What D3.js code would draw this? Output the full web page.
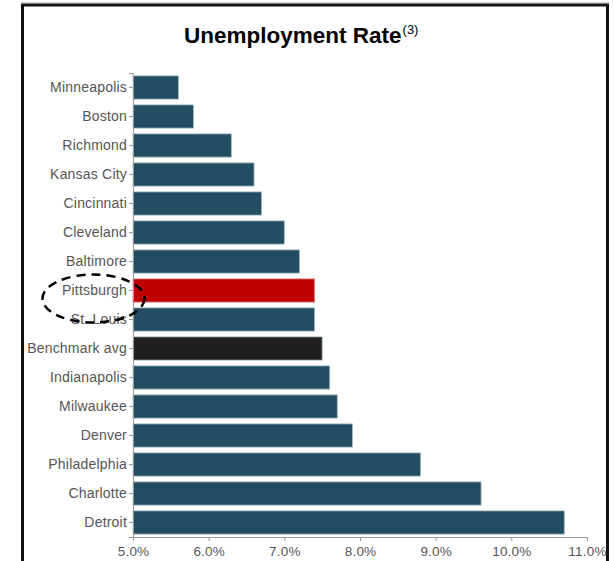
<!DOCTYPE html>
<html>
<head>
<meta charset="utf-8">
<script src="https://cdn.jsdelivr.net/npm/d3@7/dist/d3.min.js"></script>
<style>
  body { margin: 0; background: #fff; }
  svg { display: block; font-family: "Liberation Sans", Arial, Helvetica, sans-serif; }
</style>
</head>
<body>
<div id="chart"></div>
<script>
const cities = ["Minneapolis", "Boston", "Richmond", "Kansas City", "Cincinnati", "Cleveland",
  "Baltimore", "Pittsburgh", "St. Louis", "Benchmark avg", "Indianapolis", "Milwaukee",
  "Denver", "Philadelphia", "Charlotte", "Detroit"];
const rates = [5.6, 5.8, 6.3, 6.6, 6.7, 7.0, 7.2, 7.4, 7.4, 7.5, 7.6, 7.7, 7.9, 8.8, 9.6, 10.7];
const xTicks = [5, 6, 7, 8, 9, 10, 11];
const highlight = "Pittsburgh";
const benchmark = "Benchmark avg";

const width = 614, height = 561;
const margin = { top: 73, right: 27, bottom: 24, left: 133 };

const svg = d3.select("#chart").append("svg")
  .attr("width", width).attr("height", height);

// frame around the slide panel
svg.append("line").attr("x1", 21).attr("x2", 609).attr("y1", 2.5).attr("y2", 2.5)
  .attr("stroke", "#cfcfcf").attr("stroke-width", 1);
svg.append("path")
  .attr("d", "M22.5,561 V5 H607.5 V561")
  .attr("fill", "none").attr("stroke", "#111").attr("stroke-width", 3);

// title
const title = svg.append("text")
  .attr("x", 184).attr("y", 43)
  .style("font-weight", "bold").style("font-size", "22.5px").style("fill", "#000");
title.append("tspan").text("Unemployment Rate");
title.append("tspan").text("(3)").style("font-size", "13px").style("font-weight", "normal")
  .attr("dx", 1).attr("dy", -9);

const x = d3.scaleLinear().domain([5, 11]).range([margin.left, width - margin.right]);
const y = d3.scaleBand().domain(cities)
  .range([margin.top, height - margin.bottom])
  .paddingInner(0.2).paddingOuter(0.1);

const color = d => d === highlight ? "#c00000" : d === benchmark ? "#1f1f1f" : "#234e61";

svg.append("g").selectAll("rect")
  .data(cities).enter().append("rect")
  .attr("x", x(5))
  .attr("y", d => y(d))
  .attr("width", (d, i) => x(rates[i]) - x(5))
  .attr("height", y.bandwidth())
  .attr("fill", d => color(d))
  .attr("stroke", d => d === highlight ? "#e08a8a" : "#a7bcc6")
  .attr("stroke-width", 0.8);

// x axis
const xAxis = svg.append("g")
  .attr("transform", `translate(0,${height - margin.bottom})`)
  .call(d3.axisBottom(x).tickValues(xTicks).tickSize(4).tickFormat(d => d.toFixed(1) + "%"));
xAxis.select(".domain").attr("stroke", "#999");
xAxis.selectAll(".tick line").attr("stroke", "#999");
xAxis.selectAll("text").attr("fill", "#555").style("font-size", "13.5px")
  .style("font-family", "inherit").style("letter-spacing", "0.2px").attr("dy", "0.9em");

// y axis
const yAxis = svg.append("g")
  .attr("transform", `translate(${margin.left},0)`)
  .call(d3.axisLeft(y).tickSize(4).tickPadding(2));
yAxis.select(".domain").attr("stroke", "#999");
yAxis.selectAll(".tick line").attr("stroke", "#999");
yAxis.selectAll("text").attr("fill", "#555").style("font-size", "14px")
  .style("font-family", "inherit").style("letter-spacing", "0.2px");

// dashed callout around Pittsburgh
svg.append("ellipse")
  .attr("cx", 93.5)
  .attr("cy", y(highlight) + y.bandwidth() / 2 + 8)
  .attr("rx", 51).attr("ry", 24)
  .attr("fill", "none").attr("stroke", "#000")
  .attr("stroke-width", 2.5).attr("stroke-dasharray", "9,6");
</script>
</body>
</html>
